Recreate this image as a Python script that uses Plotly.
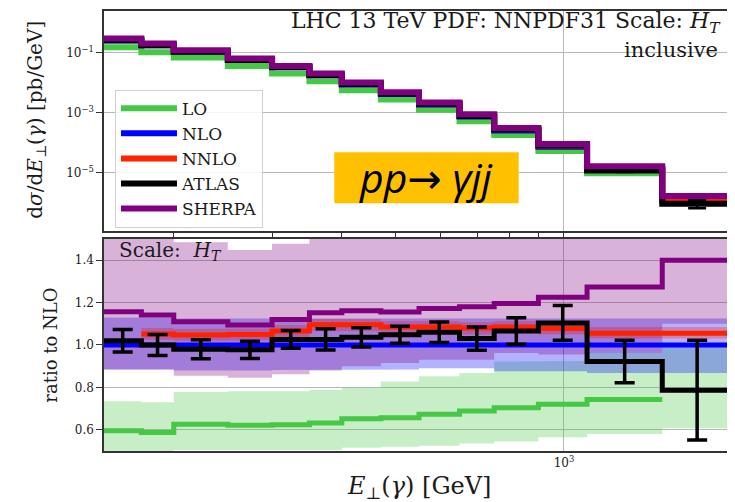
import numpy as np
import plotly.graph_objects as go
from plotly.subplots import make_subplots

# ---------------- data ----------------
bin_edges = [150, 175, 200, 250, 300, 350, 400, 470, 550, 650, 750, 900, 1100, 1500, 2000]

# NLO cross section dsigma/dE [pb/GeV]
nlo_xsec = [0.25, 0.175, 0.108, 0.0576, 0.0321, 0.0174, 0.0086, 0.00417, 0.00186,
            7.5e-4, 2.58e-4, 7.4e-5, 1.3e-5, 1.21e-6]

# ratios to NLO
lo_ratio = [0.595, 0.587, 0.626, 0.622, 0.624, 0.632, 0.652, 0.657, 0.673, 0.689, 0.704, 0.72, 0.743, None]
nlo_ratio = [1.0] * 14
nnlo_ratio = [None, 1.052, 1.047, 1.05, 1.066, 1.095, 1.095, 1.085, 1.085, 1.08, 1.085, 1.078, 1.055, 1.055]
atlas_ratio = [1.02, 1.0, 0.98, 0.977, 1.026, 1.026, 1.036, 1.048, 1.06, 1.03, 1.066, 1.104, 0.922, 0.787]
atlas_err = [0.053, 0.05, 0.045, 0.041, 0.042, 0.05, 0.045, 0.04, 0.048, 0.055, 0.063, 0.082, 0.10, 0.235]
sherpa_ratio = [1.157, 1.141, 1.11, 1.094, 1.12, 1.152, 1.162, 1.155, 1.172, 1.18, 1.196, 1.225, 1.274, 1.40]

# uncertainty bands (ratio to NLO)
lo_band_lo = [0.45, 0.45, 0.505, 0.505, 0.505, 0.505, 0.515, 0.52, 0.525, 0.535, 0.545, 0.565, 0.58, 0.607]
lo_band_hi = [0.735, 0.73, 0.778, 0.782, 0.782, 0.788, 0.798, 0.828, 0.852, 0.868, 0.922, 0.925, 0.962, 1.0]
nlo_band_lo = [0.884, 0.884, 0.88, 0.88, 0.882, 0.885, 0.885, 0.884, 0.89, 0.89, 0.876, 0.876, 0.868, 0.868]
nlo_band_hi = [1.13, 1.128, 1.125, 1.122, 1.125, 1.125, 1.125, 1.125, 1.125, 1.125, 1.125, 1.125, 1.125, 1.125]
nnlo_band_lo = [None, 1.025, 1.02, 1.022, 1.038, 1.065, 1.065, 1.055, 1.055, 1.05, 1.055, 1.05, 1.03, 1.03]
nnlo_band_hi = [None, 1.08, 1.075, 1.078, 1.094, 1.122, 1.122, 1.112, 1.112, 1.107, 1.112, 1.105, 1.085, 1.085]
sherpa_band_lo = [0.884, 0.884, 0.855, 0.845, 0.862, 0.88, 0.90, 0.915, 0.93, 0.93, 0.962, 0.955, 0.962, 1.10]
sherpa_band_hi = [1.6, 1.6, 1.485, 1.448, 1.477, 1.6, 1.6, 1.6, 1.6, 1.6, 1.6, 1.6, 1.6, 1.7]

series_names = ["LO", "NLO", "NNLO", "ATLAS", "SHERPA"]
series_colors = ["#46c846", "#0000ff", "#ff2200", "#000000", "#800080"]
band_fill = ["rgba(70,200,70,0.3)", "rgba(0,0,255,0.3)", "rgba(255,34,0,0.3)", None, "rgba(128,0,128,0.3)"]

x_tick_major = [1000]
x_tick_major_text = ["10<sup>3</sup>"]
x_tick_minor = [200, 300, 400, 500, 600, 700, 800, 900]
y_top_ticks = [1e-1, 1e-3, 1e-5]
y_top_ticktext = ["10<sup>\u22121</sup>", "10<sup>\u22123</sup>", "10<sup>\u22125</sup>"]
y_bot_ticks = [0.6, 0.8, 1.0, 1.2, 1.4]
y_bot_ticktext = ["0.6", "0.8", "1.0", "1.2", "1.4"]

# ---------------- helpers ----------------
def step(vals):
    idx = [i for i, v in enumerate(vals) if v is not None]
    x = [bin_edges[i] for i in idx] + [bin_edges[idx[-1] + 1]]
    y = [vals[i] for i in idx] + [vals[idx[-1]]]
    return x, y

def band(lo, hi):
    idx = [i for i, v in enumerate(lo) if v is not None]
    xu, yu, xl, yl = [], [], [], []
    for i in idx:
        xu += [bin_edges[i], bin_edges[i + 1]]
        yu += [hi[i], hi[i]]
        xl += [bin_edges[i], bin_edges[i + 1]]
        yl += [lo[i], lo[i]]
    return xu + xl[::-1], yu + yl[::-1]

ratios = [lo_ratio, nlo_ratio, nnlo_ratio, atlas_ratio, sherpa_ratio]
bands = [(lo_band_lo, lo_band_hi), (nlo_band_lo, nlo_band_hi), (nnlo_band_lo, nnlo_band_hi), None,
         (sherpa_band_lo, sherpa_band_hi)]

centers = [float(np.sqrt(bin_edges[i] * bin_edges[i + 1])) for i in range(14)]

SERIF = "DejaVu Serif"
TXT = "#1a1a1a"

fig = make_subplots(rows=2, cols=1, shared_xaxes=False, vertical_spacing=0.0)

# ---------------- top panel ----------------
for name, col, r in zip(series_names, series_colors, ratios):
    if name == "SHERPA":
        fig.add_trace(go.Scatter(x=centers, y=[a * n for a, n in zip(atlas_ratio, nlo_xsec)], mode="markers",
                                 marker=dict(size=1, color="black", opacity=0),
                                 error_y=dict(type="data", array=[e * n for e, n in zip(atlas_err, nlo_xsec)],
                                              color="black", thickness=2.5, width=9),
                                 showlegend=False, hoverinfo="skip"), row=1, col=1)
    absvals = [None if v is None else v * n for v, n in zip(r, nlo_xsec)]
    x, y = step(absvals)
    fig.add_trace(go.Scatter(x=x, y=y, mode="lines", line=dict(color=col, width=6, shape="hv"),
                             name=name, showlegend=True), row=1, col=1)

# ---------------- bottom panel ----------------
for b, fc in zip(bands, band_fill):
    if b is None:
        continue
    x, y = band(*b)
    fig.add_trace(go.Scatter(x=x, y=y, mode="lines", fill="toself", fillcolor=fc,
                             line=dict(width=0), showlegend=False, hoverinfo="skip"), row=2, col=1)

for name, col, r in zip(series_names, series_colors, ratios):
    x, y = step(r)
    fig.add_trace(go.Scatter(x=x, y=y, mode="lines", line=dict(color=col, width=5, shape="hv"),
                             name=name, showlegend=False), row=2, col=1)

fig.add_trace(go.Scatter(x=centers, y=atlas_ratio, mode="markers",
                         marker=dict(size=1, color="black", opacity=0),
                         error_y=dict(type="data", array=atlas_err, color="black", thickness=3.5, width=10),
                         showlegend=False, hoverinfo="skip"), row=2, col=1)

# ---------------- axes ----------------
xr = [np.log10(bin_edges[0]), np.log10(bin_edges[-1])]
axis_common = dict(showline=True, linecolor="#333333", linewidth=1.5, mirror=True,
                   gridcolor="#b8b8b8", gridwidth=1, zeroline=False,
                   tickfont=dict(family=SERIF, size=12, color=TXT))

fig.update_xaxes(type="log", range=xr, tickvals=x_tick_major, ticktext=x_tick_major_text,
                 showgrid=True, **axis_common)
fig.update_xaxes(showticklabels=False, ticks="outside", ticklen=7, tickcolor="#333",
                 minor=dict(tickvals=x_tick_minor, ticks="outside", ticklen=4, tickcolor="#333", showgrid=False),
                 row=1, col=1)
fig.update_xaxes(ticks="", row=2, col=1)

fig.update_yaxes(type="log", range=[-6.93, 0.379], tickvals=y_top_ticks, ticktext=y_top_ticktext,
                 ticks="outside", ticklen=6, tickcolor="#333", row=1, col=1, **axis_common)
fig.update_yaxes(range=[0.5, 1.5], tickvals=y_bot_ticks, ticktext=y_bot_ticktext,
                 ticks="outside", ticklen=6, tickcolor="#333", row=2, col=1, **axis_common)

fig.update_layout(
    yaxis=dict(domain=[0.5, 1.0]),
    yaxis2=dict(domain=[0.0, 0.4819]),
)

# ---------------- annotations ----------------
ann = []
ann.append(dict(text="LHC 13 TeV PDF: NNPDF31 Scale: <i>H<sub>T</sub></i>", x=0.9857, y=0.9735,
                xanchor="right", yanchor="middle", showarrow=False, font=dict(family=SERIF, size=22, color=TXT)))
ann.append(dict(text="inclusive", x=0.981, y=0.9105, xanchor="right", yanchor="middle", showarrow=False,
                font=dict(family=SERIF, size=21, color=TXT)))
ann.append(dict(text="Scale:  <i>H<sub>T</sub></i>", x=0.0206, y=0.4548, xanchor="left", yanchor="middle",
                showarrow=False, font=dict(family=SERIF, size=20, color=TXT)))
ann.append(dict(text="d<i>σ</i>/d<i>E</i><sub>⊥</sub>(<i>γ</i>) [pb/GeV]", x=-0.1095, y=0.7534, textangle=-90,
                xanchor="center", yanchor="middle", showarrow=False, font=dict(family=SERIF, size=20, color=TXT)))
ann.append(dict(text="ratio to NLO", x=-0.0857, y=0.2398, textangle=-90, xanchor="center", yanchor="middle",
                showarrow=False, font=dict(family=SERIF, size=18, color=TXT)))
ann.append(dict(text="<i>E</i><sub>⊥</sub>(<i>γ</i>) [GeV]", x=0.5016, y=-0.0837, xanchor="center",
                yanchor="middle", showarrow=False, font=dict(family=SERIF, size=24, color=TXT)))
ann.append(dict(text="<i>pp</i><span style=\"font-family:'DejaVu Sans'\">→</span><i> γjj</i>",
                x=0.5127, y=0.6222, xanchor="center", yanchor="middle",
                showarrow=False, font=dict(family="Open Sans", size=41, color="black")))
for a in ann:
    a["xref"] = "paper"
    a["yref"] = "paper"

# the page body adds an 8px offset; the figure is sized so the plot lands where the reference has it
fig.update_layout(
    width=727, height=495,
    margin=dict(l=96, r=1, t=1, b=52),
    paper_bgcolor="white", plot_bgcolor="white",
    annotations=ann,
    shapes=[dict(type="rect", xref="paper", yref="paper", x0=0.3667, x1=0.6603, y0=0.5633, y1=0.6787,
                 fillcolor="#ffc000", line=dict(width=0), layer="above")],
    legend=dict(x=0.0175, y=0.8213, xanchor="left", yanchor="top", bgcolor="rgba(255,255,255,0.85)",
                bordercolor="#d0d0d0", borderwidth=1, font=dict(family=SERIF, size=17, color=TXT),
                tracegroupgap=0, itemwidth=56),
    showlegend=True,
)

fig.write_html("out.html")
